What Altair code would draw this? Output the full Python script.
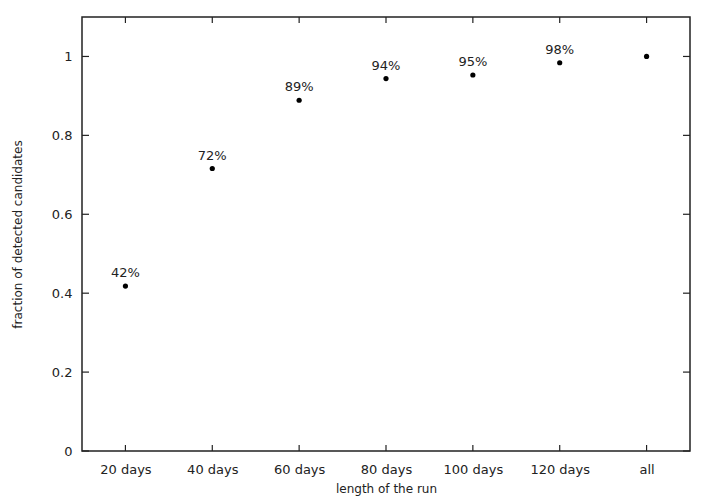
import altair as alt
import pandas as pd

# Fraction of candidates detected as a function of run length
runs = ["20 days", "40 days", "60 days", "80 days", "100 days", "120 days", "all"]
fraction = [0.418, 0.716, 0.889, 0.944, 0.953, 0.984, 1.0]
labels = ["42%", "72%", "89%", "94%", "95%", "98%", ""]
y_ticks = [0, 0.2, 0.4, 0.6, 0.8, 1.0]

W, H = 608, 434
FONT = "DejaVu Sans"
INK = "#222"

df = pd.DataFrame({"run": runs, "fraction": fraction, "label": labels})
yt = pd.DataFrame({"v": y_ticks})
xt = pd.DataFrame({"run": runs})

x_scale = alt.Scale(type="point", domain=runs, padding=0.5)
y_scale = alt.Scale(domain=[0, 1.1], nice=False)

axis_style = dict(
    labelFont=FONT, titleFont=FONT, labelFontSize=13, titleFontSize=12,
    labelColor=INK, titleColor=INK, titleFontWeight="normal",
    ticks=False, tickSize=0, domain=False, grid=False,
)

x_enc = alt.X(
    "run:N", scale=x_scale, sort=runs,
    axis=alt.Axis(title="length of the run", labelAngle=0, labelPadding=12,
                  titlePadding=7, **axis_style),
)
y_enc = alt.Y(
    "fraction:Q", scale=y_scale,
    axis=alt.Axis(title="fraction of detected candidates", values=y_ticks,
                  labelPadding=10, titlePadding=27, format="~g", **axis_style),
)

points = alt.Chart(df).mark_circle(size=27, color="black", opacity=1).encode(x=x_enc, y=y_enc)
text = alt.Chart(df).mark_text(dy=-13, fontSize=13, font=FONT, color=INK).encode(
    x=alt.X("run:N", scale=x_scale, sort=runs),
    y=alt.Y("fraction:Q", scale=y_scale),
    text="label:N",
)

# inward tick marks on all four sides
yl = alt.Chart(yt).mark_rule(color=INK, strokeWidth=1.2).encode(
    y=alt.Y("v:Q", scale=y_scale), x=alt.value(0), x2=alt.value(7))
yr = alt.Chart(yt).mark_rule(color=INK, strokeWidth=1.2).encode(
    y=alt.Y("v:Q", scale=y_scale), x=alt.value(W - 7), x2=alt.value(W))
xb = alt.Chart(xt).mark_rule(color=INK, strokeWidth=1.2).encode(
    x=alt.X("run:N", scale=x_scale, sort=runs), y=alt.value(H - 6), y2=alt.value(H))
xtop = alt.Chart(xt).mark_rule(color=INK, strokeWidth=1.2).encode(
    x=alt.X("run:N", scale=x_scale, sort=runs), y=alt.value(0), y2=alt.value(6))

chart = alt.layer(points, text, yl, yr, xb, xtop).properties(
    width=W, height=H,
    background="white",
    autosize=alt.AutoSizeParams(type="none"),
    padding={"left": 82, "top": 17, "right": 11, "bottom": 45},
).configure_view(
    stroke=INK, strokeWidth=1.5
)

chart.save("out.html", embed_options={"renderer": "svg", "actions": False})
